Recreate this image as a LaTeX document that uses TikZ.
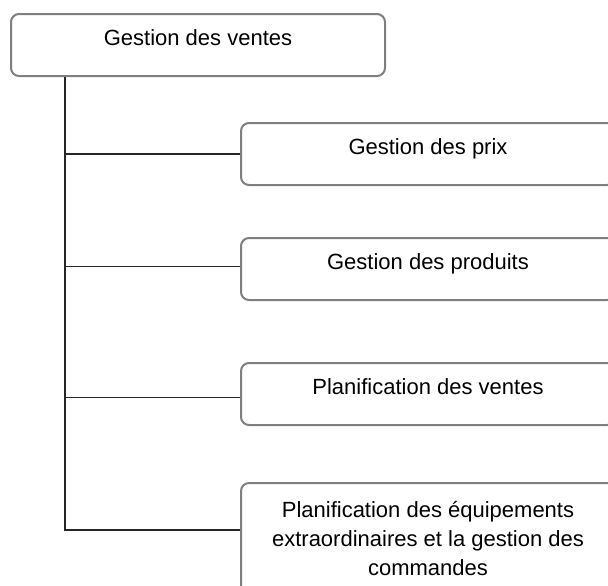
\documentclass[tikz,border=0pt]{standalone}
\usepackage{fontspec}
\setmainfont{Liberation Sans}
\usetikzlibrary{positioning}
\definecolor{BoxGray}{HTML}{7F7F7F}
\definecolor{LineDark}{HTML}{262626}

\begin{document}
\begin{tikzpicture}[
  n/.style={draw=BoxGray,line width=1pt,rounded corners=4pt,fill=white,
    minimum width=187pt,inner ysep=0pt,anchor=north west,
    text height=15.5pt,text depth=15.5pt,font=\fontsize{11}{14.5}\selectfont},
  m/.style={draw=BoxGray,line width=1pt,rounded corners=4pt,fill=white,
    minimum width=187pt,minimum height=55pt,anchor=north west,align=center,
    font=\fontsize{11}{14.5}\selectfont},
  a/.style={line width=0.7pt,color=LineDark}
]
  \clip (0,0) rectangle (304pt,-292.5pt);
  \node[n] (ventes) at (5pt,-6.5pt) {Gestion des ventes};
  \node[n] (prix) at (120pt,-61pt) {Gestion des prix};
  \node[n] (produits) at (120pt,-118.5pt) {Gestion des produits};
  \node[n] (planif) at (120pt,-181pt) {Planification des ventes};
  \node[m] (equip) at (120pt,-241pt) {Planification des équipements\\extraordinaires et la gestion des\\commandes};
  \coordinate (trunk) at ([xshift=27.5pt]ventes.south west);
  \foreach \x/\y in {prix/0pt,produits/1.25pt,planif/-1.75pt,equip/4pt}
    {\draw[a] (trunk) |- ([yshift=\y]\x.west);}
\end{tikzpicture}
\end{document}
